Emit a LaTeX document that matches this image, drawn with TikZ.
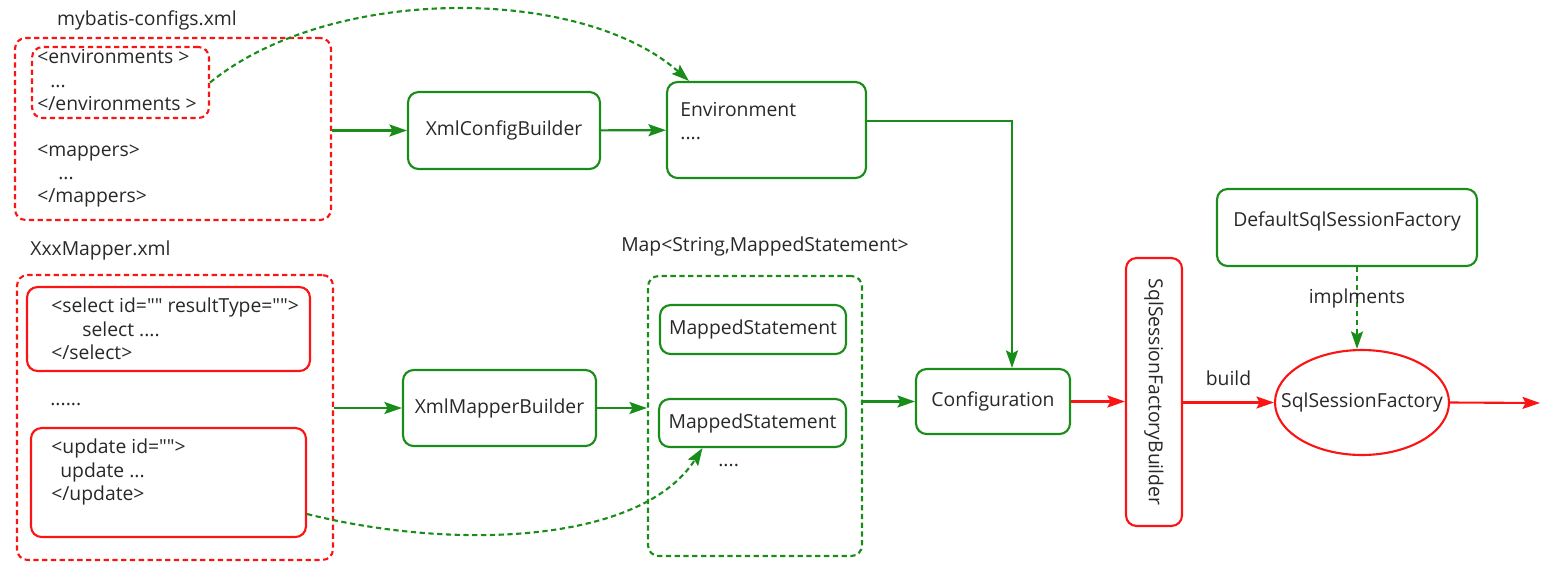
\documentclass[tikz,border=0pt]{standalone}
\usepackage{fontspec}
\setmainfont{Open Sans}[Ligatures=TeXOff]
\usetikzlibrary{shapes.geometric, arrows.meta, positioning, calc}
\definecolor{cfgred}{RGB}{250,20,20}
\definecolor{cfggreen}{RGB}{25,140,25}
\definecolor{cfgtext}{RGB}{40,40,40}

\begin{document}
\begin{tikzpicture}[
  x=0.02cm, y=-0.02cm,
  font=\fontsize{11}{13.3}\selectfont, text=cfgtext,
  redbox/.style={draw=cfgred, line width=1.2pt, rounded corners=6pt, inner sep=0pt},
  greenbox/.style={draw=cfggreen, line width=1.2pt, rounded corners=6pt, inner sep=0pt},
  dashbox/.style={dash pattern=on 3pt off 2pt},
  codetext/.style={anchor=west, align=left, inner sep=0pt},
  flow/.style={draw=cfggreen, line width=1.2pt, -{Stealth[length=3.5mm, width=2.4mm, inset=0.6mm]}},
  redflow/.style={draw=cfgred, line width=1.2pt, -{Stealth[length=3.5mm, width=2.4mm, inset=0.6mm]}},
  linkflow/.style={flow, dashbox}
]
  \useasboundingbox (0,0) rectangle (1562,585);

  % mybatis-configs.xml
  \node (cfgtitle) at (147,20) {mybatis-configs.xml};
  \node[redbox, dashbox, minimum width=6.32cm, minimum height=3.64cm] (cfgouter) at (173,129) {};
  \node[redbox, dashbox, minimum width=3.54cm, minimum height=1.42cm] (envinner) at (120.5,82.5) {};
  \node[codetext] (envlines) at (37,80) {<environments >\\ \hspace{0.26cm}...\\ </environments >};
  \node[codetext] (maplines) at (37,176) {<mappers>\\ \hspace{0.42cm}...\\ </mappers>};

  % XxxMapper.xml
  \node[codetext] (mprtitle) at (30,250) {XxxMapper.xml};
  \node[redbox, dashbox, minimum width=6.32cm, minimum height=5.7cm] (mprouter) at (175,417.5) {};
  \node[redbox, minimum width=5.66cm, minimum height=1.68cm] (sel) at (168.5,329) {};
  \node[codetext] (sellines) at (51,329) {<select id="" resultType="">\\ \hspace{0.62cm}select ....\\ </select>};
  \node[codetext] (seldots) at (50,404) {......};
  \node[redbox, minimum width=5.5cm, minimum height=2.18cm] (upd) at (168.5,482.5) {};
  \node[codetext] (updlines) at (51,472) {<update id="">\\ \hspace{0.18cm}update ...\\ </update>};

  % builders
  \node[greenbox, minimum width=3.84cm, minimum height=1.54cm] (xcb) at (504,130.5) {XmlConfigBuilder};
  \node[greenbox, minimum width=3.86cm, minimum height=1.52cm] (xmb) at (499.5,408) {XmlMapperBuilder};
  \node[greenbox, minimum width=3.98cm, minimum height=1.92cm] (env) at (766.5,130) {};
  \node[codetext] (envtext) at (680,121) {Environment\\....};

  % mapped statements
  \node (maptitle) at (765,246) {Map<String,MappedStatement>};
  \node[greenbox, dashbox, minimum width=4.28cm, minimum height=5.6cm] (mapbox) at (755,416) {};
  \node[greenbox, minimum width=3.72cm, minimum height=0.98cm] (ms1) at (753,329.5) {MappedStatement};
  \node[greenbox, minimum width=3.74cm, minimum height=0.96cm] (ms2) at (752.5,423) {MappedStatement};
  \node[codetext] (msdots) at (718,465) {....};

  % session factory
  \node[greenbox, minimum width=3.08cm, minimum height=1.3cm] (conf) at (993,401.5) {Configuration};
  \node[redbox, minimum width=1.12cm, minimum height=5.36cm] (ssfb) at (1154,392) {\rotatebox{-90}{SqlSessionFactoryBuilder}};
  \node[draw=cfgred, line width=1.2pt, ellipse, inner sep=0pt, minimum width=3.48cm, minimum height=2.1cm] (ssf) at (1362,402.5) {\makebox[0pt]{SqlSessionFactory}};
  \node[greenbox, minimum width=5.2cm, minimum height=1.54cm, text depth=0.35cm] (dssf) at (1347,227.5) {DefaultSqlSessionFactory};
  \coordinate (out) at (1540,403);

  \draw[flow] (cfgouter.east |- xcb.west) -- (xcb.west);
  \draw[flow] (xcb) -- (env);
  \draw[linkflow] (envinner.east) .. controls (330,-15) and (580,-15) .. ([xshift=0.46cm]env.north west);
  \draw[flow] ([yshift=0.18cm]env.east) -| ([xshift=0.38cm]conf.north);
  \draw[flow] (mprouter.east |- xmb.west) -- (xmb.west);
  \draw[flow] (xmb.east) -- (xmb.east -| mapbox.west);
  \draw[linkflow] ([yshift=-0.63cm]upd.east) .. controls (450,550) and (640,545) .. ([xshift=-1.0cm]ms2.south);
  \draw[flow] (mapbox.east |- conf.west) -- (conf.west);
  \draw[redflow] (conf.east) -- (conf.east -| ssfb.west);
  \draw[redflow] (ssfb.east |- ssf.west) -- node[above=0.2cm] {build} (ssf.west);
  \draw[redflow] (ssf.east) -- (out);
  \draw[linkflow] ([xshift=0.2cm]dssf.south) -- node[pos=0.38] {implments} ([xshift=0.2cm]dssf.south |- ssf.north);
\end{tikzpicture}
\end{document}
